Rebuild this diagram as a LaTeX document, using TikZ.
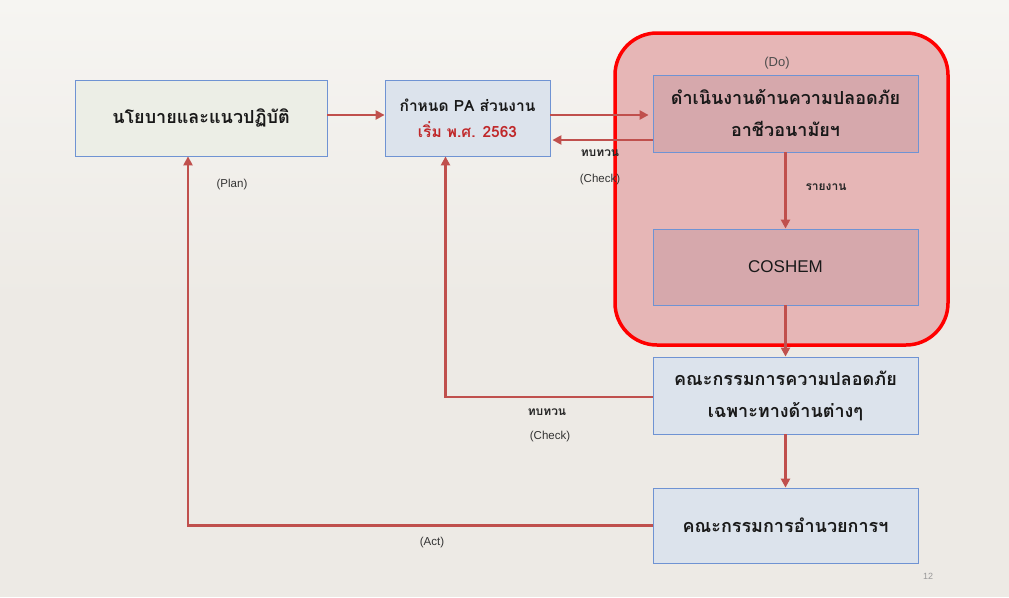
\documentclass[tikz,border=0pt]{standalone}
\usepackage{fontspec}
\setmainfont{Liberation Sans}
\newfontfamily\thaifont[Script=Thai]{Loma}
\usetikzlibrary{arrows.meta}
\definecolor{bgc}{HTML}{EDEAE5}
\definecolor{bgtop}{HTML}{F6F5F2}
\definecolor{bordc}{HTML}{6F93D3}
\definecolor{arrc}{HTML}{C0504D}
\definecolor{policyfill}{HTML}{ECEEE6}
\definecolor{bluefill}{HTML}{DCE3EC}
\definecolor{pinkfill}{HTML}{E6B6B6}
\definecolor{dofill}{HTML}{D6A8AC}
\definecolor{datered}{HTML}{C0282A}
\tikzset{
  boxnode/.style={draw=bordc, line width=0.8pt, inner sep=0pt, align=center, text=black!90, font=\thaifont\bfseries\fontsize{18}{32}\selectfont},
  arrow/.style={draw=arrc, line width=2.5pt, -{Triangle[length=9pt,width=9pt]}},
  lbl/.style={font=\fontsize{11.5}{13}\selectfont, text=black!80},
  thailbl/.style={font=\thaifont\bfseries\fontsize{12}{14}\selectfont, text=black!85},
}
\begin{document}
\begin{tikzpicture}[x=1pt,y=-1pt]
\shade[top color=bgtop, bottom color=bgc] (0,0) rectangle (1009,300);
\path[fill=bgc] (0,299.5) rectangle (1009,597);
\useasboundingbox (0,0) rectangle (1009,597);
% red rounded container
\draw[draw=red, line width=3.5pt, fill=pinkfill, rounded corners=42pt] (615,33) rectangle (948,345);
% boxes
\node[boxnode, fill=policyfill, minimum width=252pt, minimum height=76pt] (policy) at (201,118) {นโยบายและแนวปฏิบัติ};
\node[boxnode, fill=bluefill, minimum width=165pt, minimum height=76pt, font=\thaifont\bfseries\fontsize{15.5}{26}\selectfont] (pa) at (467.5,118) {กำหนด PA ส่วนงาน\\{\color{datered}เริ่ม พ.ศ. 2563}};
\node[boxnode, fill=dofill, minimum width=265pt, minimum height=77pt] (do) at (785.5,113.5) {ดำเนินงานด้านความปลอดภัย\\อาชีวอนามัยฯ};
\node[boxnode, fill=dofill, minimum width=265pt, minimum height=76pt, font=\fontsize{17}{20}\selectfont] (coshem) at (785.5,267) {COSHEM};
\node[boxnode, fill=bluefill, minimum width=265pt, minimum height=77pt] (comm) at (785.5,395.5) {คณะกรรมการความปลอดภัย\\เฉพาะทางด้านต่างๆ};
\node[boxnode, fill=bluefill, minimum width=265pt, minimum height=75pt] (board) at (785.5,525.5) {คณะกรรมการอำนวยการฯ};
% connectors
\draw[arrow] ([yshift=3pt]policy.east) -- ([yshift=3pt]pa.west);
\draw[arrow] ([yshift=3pt]pa.east) -- ([yshift=3pt,xshift=-4pt]pa.east -| do.west);
\draw[arrow] ([yshift=-26.5pt]do.west) -- ([yshift=-26.5pt,xshift=2pt]do.west -| pa.east);
\draw[arrow] (do.south) -- (coshem.north);
\draw[arrow] (coshem.south) -- (comm.north);
\draw[arrow] (comm.south) -- (board.north);
\draw[arrow] ([yshift=-1.5pt]comm.west) -| ([xshift=-22pt]pa.south);
\draw[arrow] (board.west) -| ([xshift=-13pt]policy.south);
% labels
\node[lbl] (lplan) at (232,185) {(Plan)};
\node[thailbl] (lchk1t) at (600,153) {ทบทวน};
\node[lbl] (lchk1) at (600,180) {(Check)};
\node[thailbl] (lrep) at (826,187) {รายงาน};
\node[font=\fontsize{13}{15}\selectfont, text=black!70] (ldo) at (777,63) {(Do)};
\node[thailbl] (lchk2t) at (547,412) {ทบทวน};
\node[lbl] (lchk2) at (550,437) {(Check)};
\node[lbl] (lact) at (432,543) {(Act)};
\node[font=\fontsize{9}{10}\selectfont, text=black!40] (pg) at (928,576) {12};
\end{tikzpicture}
\end{document}
